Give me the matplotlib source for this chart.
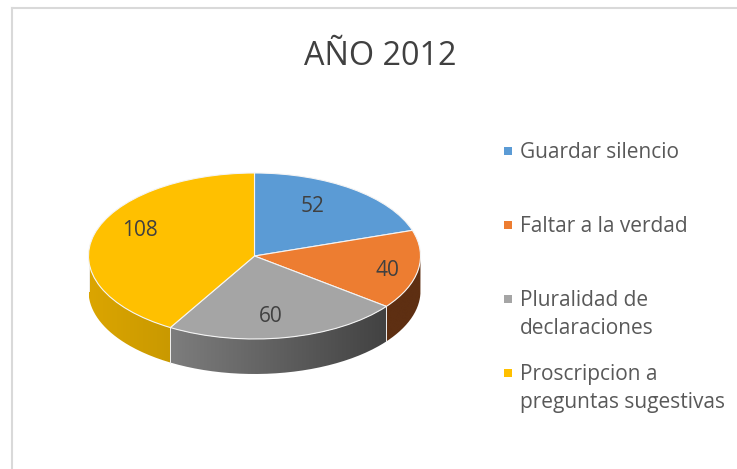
#!/usr/bin/env python
"""Pseudo-3D pie chart: AÑO 2012."""

import matplotlib

matplotlib.use("Agg")
import matplotlib.pyplot as plt
import numpy as np
from matplotlib.colors import LinearSegmentedColormap
from matplotlib.patches import PathPatch, Rectangle
from matplotlib.path import Path

TITLE = "AÑO 2012"
categories = ["Guardar silencio", "Faltar a la verdad", "Pluralidad de\ndeclaraciones",
              "Proscripcion a\npreguntas sugestivas"]
values = [52, 40, 60, 108]
top_colors = ["#5b9bd5", "#ed7d31", "#a5a5a5", "#ffc000"]
wall_colors = [("#2e4f6d", "#2e4f6d"), ("#5e2f12", "#5e2f12"), ("#7d7d7d", "#424242"), ("#dba500", "#c99900")]

# pie geometry in pixels of the 737x469 picture
CX, CY, RX, RY, DEPTH = 254.5, 256.0, 166.0, 83.0, 35.0
WIDTH, HEIGHT = 737, 469
TEXT = "#404040"
LEGEND_TEXT = "#595959"
FONT = "Open Sans"

plt.rcParams["font.family"] = [FONT, "DejaVu Sans"]


def to_x(px):
    return (px - CX) / RX


def to_y(py):
    return (CY - py) / RY


fig = plt.figure(figsize=(WIDTH / 100, HEIGHT / 100), dpi=100)
ax = fig.add_axes([0, 0, 1, 1])

wedges, _ = ax.pie(
    values,
    colors=top_colors,
    startangle=90,
    counterclock=False,
    wedgeprops={"edgecolor": "#f4f4f4", "linewidth": 0.8, "zorder": 4},
)
ax.set_axis_off()

# side walls, only the front half of the rim shows
drop = DEPTH / RY
for wedge, (left, right) in zip(wedges, wall_colors):
    start = max(wedge.theta1, -180)
    end = min(wedge.theta2, 0)
    if end <= start:
        continue
    angles = np.radians(np.linspace(start, end, 80))
    xs = np.cos(angles)
    ys = np.sin(angles)
    outline = np.vstack([np.column_stack([xs, ys]), np.column_stack([xs[::-1], ys[::-1] - drop])])
    clip = PathPatch(Path(np.vstack([outline, outline[:1]])), transform=ax.transData,
                     facecolor="none", edgecolor="none")
    ax.add_patch(clip)
    cmap = LinearSegmentedColormap.from_list("wall", [left, right])
    image = ax.imshow(
        np.linspace(0, 1, 128).reshape(1, -1),
        cmap=cmap,
        aspect="auto",
        extent=(xs.min(), xs.max(), ys.min() - drop, ys.max()),
        zorder=2,
    )
    image.set_clip_path(clip)
    ax.plot(xs[[0, 0]], [ys[0], ys[0] - drop], color="#f0f0f0", linewidth=0.7, zorder=3)

ax.set_xlim(to_x(0), to_x(WIDTH))
ax.set_ylim(to_y(HEIGHT), to_y(0))
ax.set_aspect("auto")

# faint frame of the chart area
ax.plot([to_x(11.5), to_x(11.5)], [to_y(8), to_y(469)], color="#d9d9d9", linewidth=1.5, zorder=1)
ax.plot([to_x(11.5), to_x(737)], [to_y(8), to_y(8)], color="#d9d9d9", linewidth=1.5, zorder=1)

ax.text(to_x(380), to_y(56), TITLE, fontsize=23.3, color=TEXT, ha="center", va="center")

label_px = [(313, 206), (387, 270), (271, 316), (140, 230)]
for value, (px, py) in zip(values, label_px):
    ax.text(to_x(px), to_y(py), str(value), fontsize=15, color=TEXT, ha="center", va="center", zorder=6)

legend_py = [151, 225, 299, 373]
for name, color, py in zip(categories, top_colors, legend_py):
    ax.add_patch(Rectangle((to_x(504), to_y(py + 4)), 8 / RX, 8 / RY, facecolor=color, edgecolor="none", zorder=6))
    for i, line in enumerate(name.split("\n")):
        ax.text(to_x(520), to_y(py + 1 + i * 28), line, fontsize=15, color=LEGEND_TEXT, ha="left", va="center")

fig.savefig("out.png", dpi=100)
